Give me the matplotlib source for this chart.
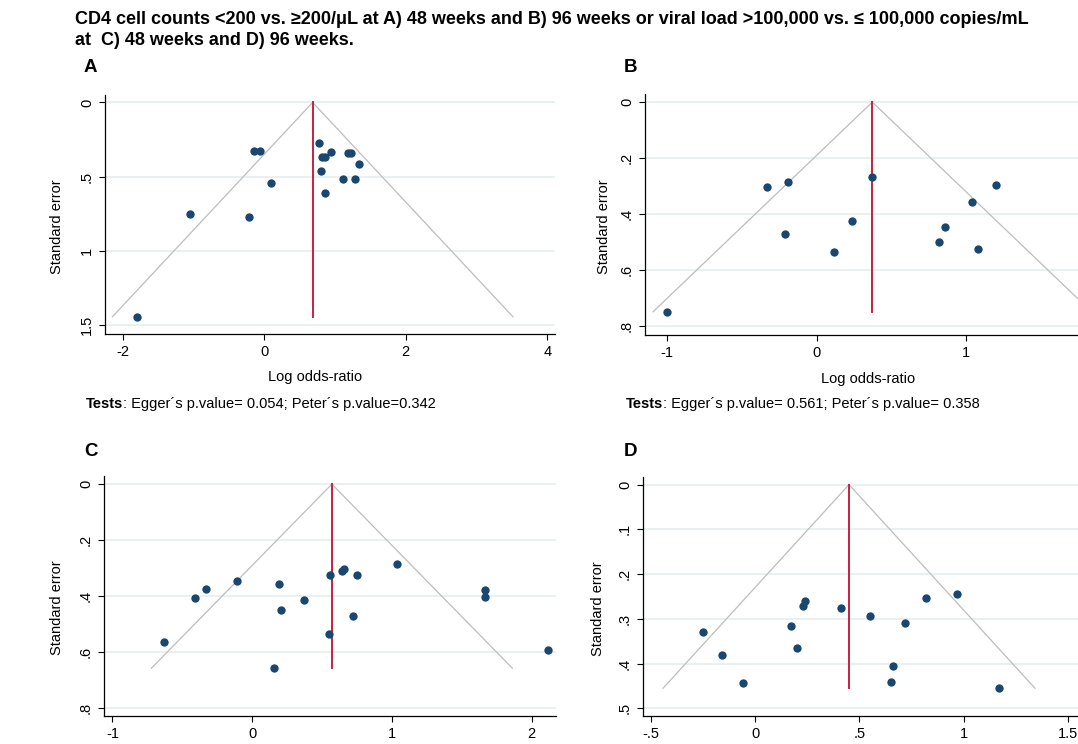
import matplotlib
matplotlib.use("Agg")
import matplotlib.pyplot as plt
import numpy as np

plt.rcParams['font.family'] = ['Liberation Sans', 'DejaVu Sans']

# ---------------- data ----------------
# Panel A: CD4 <200 vs >=200, 48 weeks
a_logor = [0.78, -0.14, -0.06, 0.95, 1.19, 1.23, 0.81, 0.86, 1.34, 0.80,
           1.12, 1.28, 0.09, 0.86, -1.05, -0.21, -1.80]
a_se = [0.270, 0.324, 0.324, 0.333, 0.344, 0.344, 0.369, 0.369, 0.414, 0.461,
        0.513, 0.517, 0.544, 0.611, 0.749, 0.773, 1.444]
a_pooled = 0.685

# Panel B: CD4 <200 vs >=200, 96 weeks
b_logor = [-0.33, -0.19, 0.37, 1.20, 1.04, 0.24, 0.86, -0.21, 0.82, 0.12, 1.08, -1.00]
b_se = [0.302, 0.285, 0.269, 0.297, 0.358, 0.426, 0.446, 0.470, 0.500, 0.535, 0.527, 0.750]
b_pooled = 0.374

# Panel C: viral load >100,000 vs <=100,000, 48 weeks
c_logor = [1.04, 0.66, 0.64, 0.56, 0.75, -0.11, 0.19, -0.33, 1.67, -0.41,
           1.67, 0.37, 0.21, 0.72, 0.55, -0.63, 2.12, 0.16]
c_se = [0.287, 0.304, 0.312, 0.325, 0.327, 0.348, 0.359, 0.374, 0.378, 0.409,
        0.404, 0.416, 0.452, 0.473, 0.538, 0.566, 0.595, 0.659]
c_pooled = 0.571

# Panel D: viral load >100,000 vs <=100,000, 96 weeks
d_logor = [0.97, 0.82, 0.24, 0.23, 0.41, 0.55, 0.72, 0.17, -0.25, 0.20,
           -0.16, 0.66, -0.06, 0.65, 1.17]
d_se = [0.245, 0.253, 0.259, 0.272, 0.276, 0.293, 0.310, 0.315, 0.330, 0.365,
        0.381, 0.405, 0.443, 0.442, 0.455]
d_pooled = 0.45

panel_letters = ["A", "B", "C", "D"]
a_xticks = [-2, 0, 2, 4]
a_xticklabels = ["-2", "0", "2", "4"]
a_yticks = [0, 0.5, 1, 1.5]
a_yticklabels = ["0", ".5", "1", "1.5"]
b_xticks = [-1, 0, 1]
b_xticklabels = ["-1", "0", "1"]
b_yticks = [0, 0.2, 0.4, 0.6, 0.8]
b_yticklabels = ["0", ".2", ".4", ".6", ".8"]
c_xticks = [-1, 0, 1, 2]
c_xticklabels = ["-1", "0", "1", "2"]
c_yticks = [0, 0.2, 0.4, 0.6, 0.8]
c_yticklabels = ["0", ".2", ".4", ".6", ".8"]
d_xticks = [-0.5, 0, 0.5, 1, 1.5]
d_xticklabels = ["-.5", "0", ".5", "1", "1.5"]
d_yticks = [0, 0.1, 0.2, 0.3, 0.4, 0.5]
d_yticklabels = ["0", ".1", ".2", ".3", ".4", ".5"]

tests_a = (" 0.054", "0.342")
tests_b = (" 0.561", " 0.358")

title_line2 = "CD4 cell counts <200 vs. \u2265200/\u03bcL at A) 48 weeks and B) 96 weeks or viral load >100,000 vs. \u2264 100,000 copies/mL"
title_line3 = "at  C) 48 weeks and D) 96 weeks."

# ---------------- styling ----------------
W, H = 1078, 744
fig = plt.figure(figsize=(W / 100, H / 100), dpi=100)
fig.patch.set_facecolor("white")

NAVY = "#1a476f"
GRID = "#e4edf0"
FUNNEL = "#bdbdbd"
RED = "#c8203f"
FS = 10.5


def px_axes(left, top, right, bottom):
    return fig.add_axes([left / W, 1 - bottom / H, (right - left) / W, (bottom - top) / H])


def funnel(ax, x, se, pooled, xlim, ylim, xt, xtl, yt, ytl, ylab_x, xlabel=True, xlab_pos=0.47):
    semax = max(se)
    ax.set_xlim(*xlim)
    ax.set_ylim(*ylim)
    for y in yt:
        ax.axhline(y, color=GRID, lw=1.2, zorder=0)
    ax.plot([pooled - 1.96 * semax, pooled, pooled + 1.96 * semax], [semax, 0, semax],
            color=FUNNEL, lw=0.9, zorder=1)
    ax.plot([pooled, pooled], [0, semax], color=RED, lw=1.4, zorder=2)
    ax.scatter(x, se, s=36, color=NAVY, zorder=3, linewidths=0)
    ax.set_xticks(xt)
    ax.set_xticklabels(xtl, fontsize=FS)
    ax.set_yticks(yt)
    ax.set_yticklabels(ytl, fontsize=FS, rotation=90, va="center")
    ax.tick_params(axis="both", direction="out", length=4, width=0.8, color="black", pad=4)
    for s in ["top", "right"]:
        ax.spines[s].set_visible(False)
    for s in ["left", "bottom"]:
        ax.spines[s].set_linewidth(0.9)
    ax.set_ylabel("Standard error", fontsize=FS)
    ax.yaxis.set_label_coords(ylab_x, 0.45)
    if xlabel:
        ax.set_xlabel("Log odds-ratio", fontsize=FS)
        ax.xaxis.set_label_coords(xlab_pos, -0.152)


axA = px_axes(105, 95, 555, 334)
funnel(axA, a_logor, a_se, a_pooled, (-2.25, 4.11), (1.56, -0.05),
       a_xticks, a_xticklabels, a_yticks, a_yticklabels, -0.091, xlab_pos=0.466)

axB = px_axes(645, 94, 1095, 335)
funnel(axB, b_logor, b_se, b_pooled, (-1.15, 1.867), (0.833, -0.029),
       b_xticks, b_xticklabels, b_yticks, b_yticklabels, -0.076, xlab_pos=0.495)

axC = px_axes(104, 476, 556, 716)
funnel(axC, c_logor, c_se, c_pooled, (-1.06, 2.175), (0.83, -0.029),
       c_xticks, c_xticklabels, c_yticks, c_yticklabels, -0.089, xlabel=False)

axD = px_axes(643, 477, 1093, 716)
funnel(axD, d_logor, d_se, d_pooled, (-0.538, 1.62), (0.517, -0.017),
       d_xticks, d_xticklabels, d_yticks, d_yticklabels, -0.084, xlabel=False)

# panel letters
for (px, py), letter in zip([(84, 68), (624, 68), (84, 452), (624, 452)], panel_letters):
    fig.text(px / W, 1 - py / H, letter, fontsize=13.5, fontweight="bold", va="center", ha="left")


# Tests lines
def tests_text(px, py, vals):
    t = fig.text(px / W, 1 - py / H, "Tests", fontsize=FS, fontweight="bold",
                 va="baseline", ha="left")
    fig.canvas.draw()
    bb = t.get_window_extent()
    fig.text(bb.x1 / W, 1 - py / H,
             ": Egger\u00b4s p.value=%s; Peter\u00b4s p.value=%s" % vals,
             fontsize=FS, va="baseline", ha="left")


tests_text(86, 408, tests_a)
tests_text(626, 408, tests_b)

# title (figure is cropped at the top)
fig.text(75 / W, 1 - 24 / H, title_line2, fontsize=13, fontweight="bold", va="baseline", ha="left")
fig.text(75 / W, 1 - 45 / H, title_line3, fontsize=13, fontweight="bold", va="baseline", ha="left")

fig.savefig("out.png", dpi=100)
